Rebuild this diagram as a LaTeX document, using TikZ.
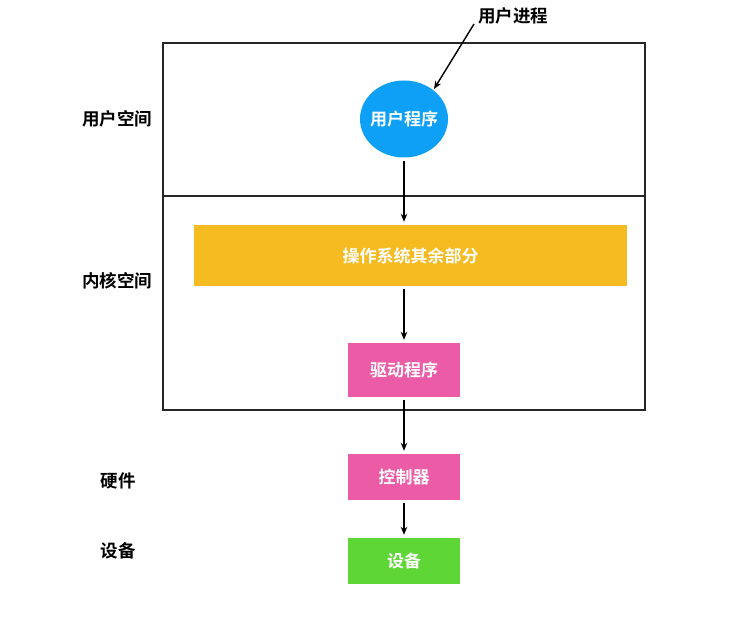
\documentclass[tikz,border=0pt]{standalone}
\usepackage{fontspec}
\newfontfamily\cjk{Noto Sans CJK SC}[BoldFont={* Bold}]
\usetikzlibrary{arrows.meta,shapes.geometric}
\definecolor{cblue}{RGB}{14,160,246}
\definecolor{corange}{RGB}{245,187,32}
\definecolor{cpink}{RGB}{236,91,166}
\definecolor{cgreen}{RGB}{94,214,54}
\tikzset{
  lbl/.style={font=\cjk\bfseries\fontsize{17.5}{19}\selectfont, text=black},
  boxtxt/.style={font=\cjk\bfseries\fontsize{17}{19}\selectfont, text=white},
  arr/.style={-{Stealth[length=8pt,width=6.5pt]}, line width=1.4pt, shorten <=3pt, shorten >=3pt},
  frame/.style={draw=black!85, line width=1.5pt}
}
\begin{document}
\begin{tikzpicture}[x=1pt,y=-1pt]
\useasboundingbox (0,0) rectangle (746,639);
\fill[white] (0,0) rectangle (746,639);
% frame
\draw[frame] (163,43) rectangle (645,410);
\draw[frame] (163,196) -- (645,196);
% nodes
\node[ellipse, fill=cblue, minimum width=88pt, minimum height=77pt, inner sep=0pt, boxtxt] (up) at (404,119) {\makebox[0pt]{用户程序}};
\node[lbl] (proc) at (513,16) {用户进程};
\node[rectangle, fill=corange, minimum width=433pt, minimum height=61pt, inner sep=0pt, boxtxt] (os) at (410.5,255.5) {操作系统其余部分};
\node[rectangle, fill=cpink, minimum width=112pt, minimum height=54pt, inner sep=0pt, boxtxt] (drv) at (404,370) {驱动程序};
\node[rectangle, fill=cpink, minimum width=112pt, minimum height=46pt, inner sep=0pt, boxtxt] (ctl) at (404,477) {控制器};
\node[rectangle, fill=cgreen, minimum width=112pt, minimum height=46pt, inner sep=0pt, boxtxt] (dev) at (404,561) {设备};
% left labels
\node[lbl] (l1) at (117,119) {用户空间};
\node[lbl] (l2) at (117,281) {内核空间};
\node[lbl] (l3) at (118,481) {硬件};
\node[lbl] (l4) at (118,551) {设备};
% arrows
\coordinate (pa) at (474,24);
\coordinate (pb) at (434,89);
\draw[arr, shorten <=0pt, shorten >=0pt] (pa) -- (pb);
\draw[arr] (up.south) -- (up.south |- os.north);
\draw[arr] (up.south |- os.south) -- (drv.north);
\draw[arr] (drv.south) -- (ctl.north);
\draw[arr] (ctl.south) -- (dev.north);
\end{tikzpicture}
\end{document}
